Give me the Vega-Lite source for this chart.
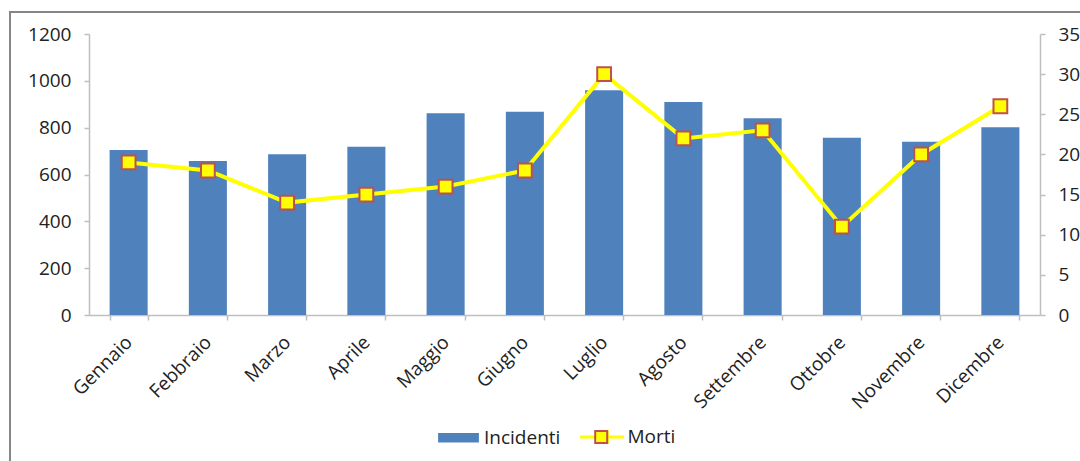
{
  "$schema": "https://vega.github.io/schema/vega-lite/v6.json",
  "width": 1080,
  "height": 460,
  "autosize": {"type": "none"},
  "padding": {"left": 10, "top": 12, "right": 0, "bottom": 0},
  "background": "white",
  "config": {
    "view": {"stroke": "#868686", "strokeWidth": 2},
    "font": "Open Sans",
    "axis": {
      "grid": false,
      "title": null,
      "domainColor": "#BFBFBF",
      "domainWidth": 1.5,
      "tickColor": "#BFBFBF",
      "tickWidth": 1.5,
      "tickSize": 5,
      "labelFont": "Open Sans",
      "labelFontSize": 19,
      "labelColor": "#222222",
      "labelPadding": 13
    },
    "legend": {
      "orient": "none",
      "direction": "horizontal",
      "title": null,
      "padding": 0,
      "labelFont": "Open Sans",
      "labelFontSize": 19,
      "labelColor": "#222222"
    }
  },
  "data": {
    "values": [
      {"mese": "Gennaio", "incidenti": 705, "morti": 19},
      {"mese": "Febbraio", "incidenti": 658, "morti": 18},
      {"mese": "Marzo", "incidenti": 686, "morti": 14},
      {"mese": "Aprile", "incidenti": 718, "morti": 15},
      {"mese": "Maggio", "incidenti": 862, "morti": 16},
      {"mese": "Giugno", "incidenti": 868, "morti": 18},
      {"mese": "Luglio", "incidenti": 960, "morti": 30},
      {"mese": "Agosto", "incidenti": 910, "morti": 22},
      {"mese": "Settembre", "incidenti": 840, "morti": 23},
      {"mese": "Ottobre", "incidenti": 757, "morti": 11},
      {"mese": "Novembre", "incidenti": 740, "morti": 20},
      {"mese": "Dicembre", "incidenti": 802, "morti": 26}
    ]
  },
  "encoding": {
    "x": {
      "field": "mese",
      "type": "nominal",
      "sort": null,
      "scale": {"range": [79, 1030], "paddingInner": 0.52, "paddingOuter": 0.26},
      "axis": {
        "offset": -157,
        "labelAngle": -45,
        "labelAlign": "right",
        "labelBaseline": "middle",
        "tickBand": "extent",
        "labelPadding": 19
      }
    }
  },
  "layer": [
    {
      "mark": {"type": "bar"},
      "encoding": {
        "y": {
          "field": "incidenti",
          "type": "quantitative",
          "scale": {"domain": [0, 1200], "range": [303, 22]},
          "axis": {"orient": "left", "offset": -79, "format": "d", "values": [0, 200, 400, 600, 800, 1000, 1200]}
        },
        "color": {
          "datum": "Incidenti",
          "type": "nominal",
          "scale": {"domain": ["Incidenti", "Morti"], "range": ["#4F81BD", "#FFFF00"]},
          "legend": {
            "legendX": 426,
            "legendY": 402.5,
            "symbolSize": 1764,
            "symbolStrokeWidth": 3,
            "labelOffset": 3,
            "columnPadding": 12.5,
            "encode": {
              "symbols": {
                "update": {
                  "shape": {"signal": "datum.value === 'Incidenti' ? 'M-0.9,-0.15H0.9V0.15H-0.9Z' : 'M-1.05,0H1.05M-0.255,-0.255H0.255V0.255H-0.255Z'"},
                  "fill": {"signal": "datum.value === 'Incidenti' ? '#4F81BD' : '#FFFF00'"},
                  "stroke": {"signal": "datum.value === 'Incidenti' ? '#4F81BD' : '#FFFF00'"},
                  "opacity": {"value": 1}
                }
              }
            }
          }
        }
      }
    },
    {
      "encoding": {
        "y": {
          "field": "morti",
          "type": "quantitative",
          "scale": {"domain": [0, 35], "range": [303, 22]},
          "axis": {"orient": "right", "offset": -50, "values": [0, 5, 10, 15, 20, 25, 30, 35]}
        }
      },
      "layer": [
        {
          "mark": {"type": "line", "strokeWidth": 4},
          "encoding": {"color": {"datum": "Morti", "type": "nominal"}}
        },
        {
          "mark": {
            "type": "point",
            "filled": true,
            "fill": "#FFFF00",
            "stroke": "#C0504D",
            "strokeWidth": 2,
            "size": 190,
            "opacity": 1
          },
          "encoding": {
            "shape": {
              "datum": "Morti",
              "type": "nominal",
              "scale": {"domain": ["Morti"], "range": ["square"]},
              "legend": {
                "legendX": 584.2,
                "legendY": 418,
                "zindex": 2,
                "symbolSize": 144,
                "symbolStrokeWidth": 2,
                "labelFontSize": 1,
                "labelOpacity": 0,
                "labelOffset": 0,
                "encode": {
                  "symbols": {
                    "update": {
                      "shape": {"value": "square"},
                      "fill": {"value": "#FFFF00"},
                      "stroke": {"value": "#C0504D"},
                      "opacity": {"value": 1}
                    }
                  }
                }
              }
            }
          }
        }
      ]
    }
  ],
  "resolve": {"scale": {"y": "independent"}}
}
